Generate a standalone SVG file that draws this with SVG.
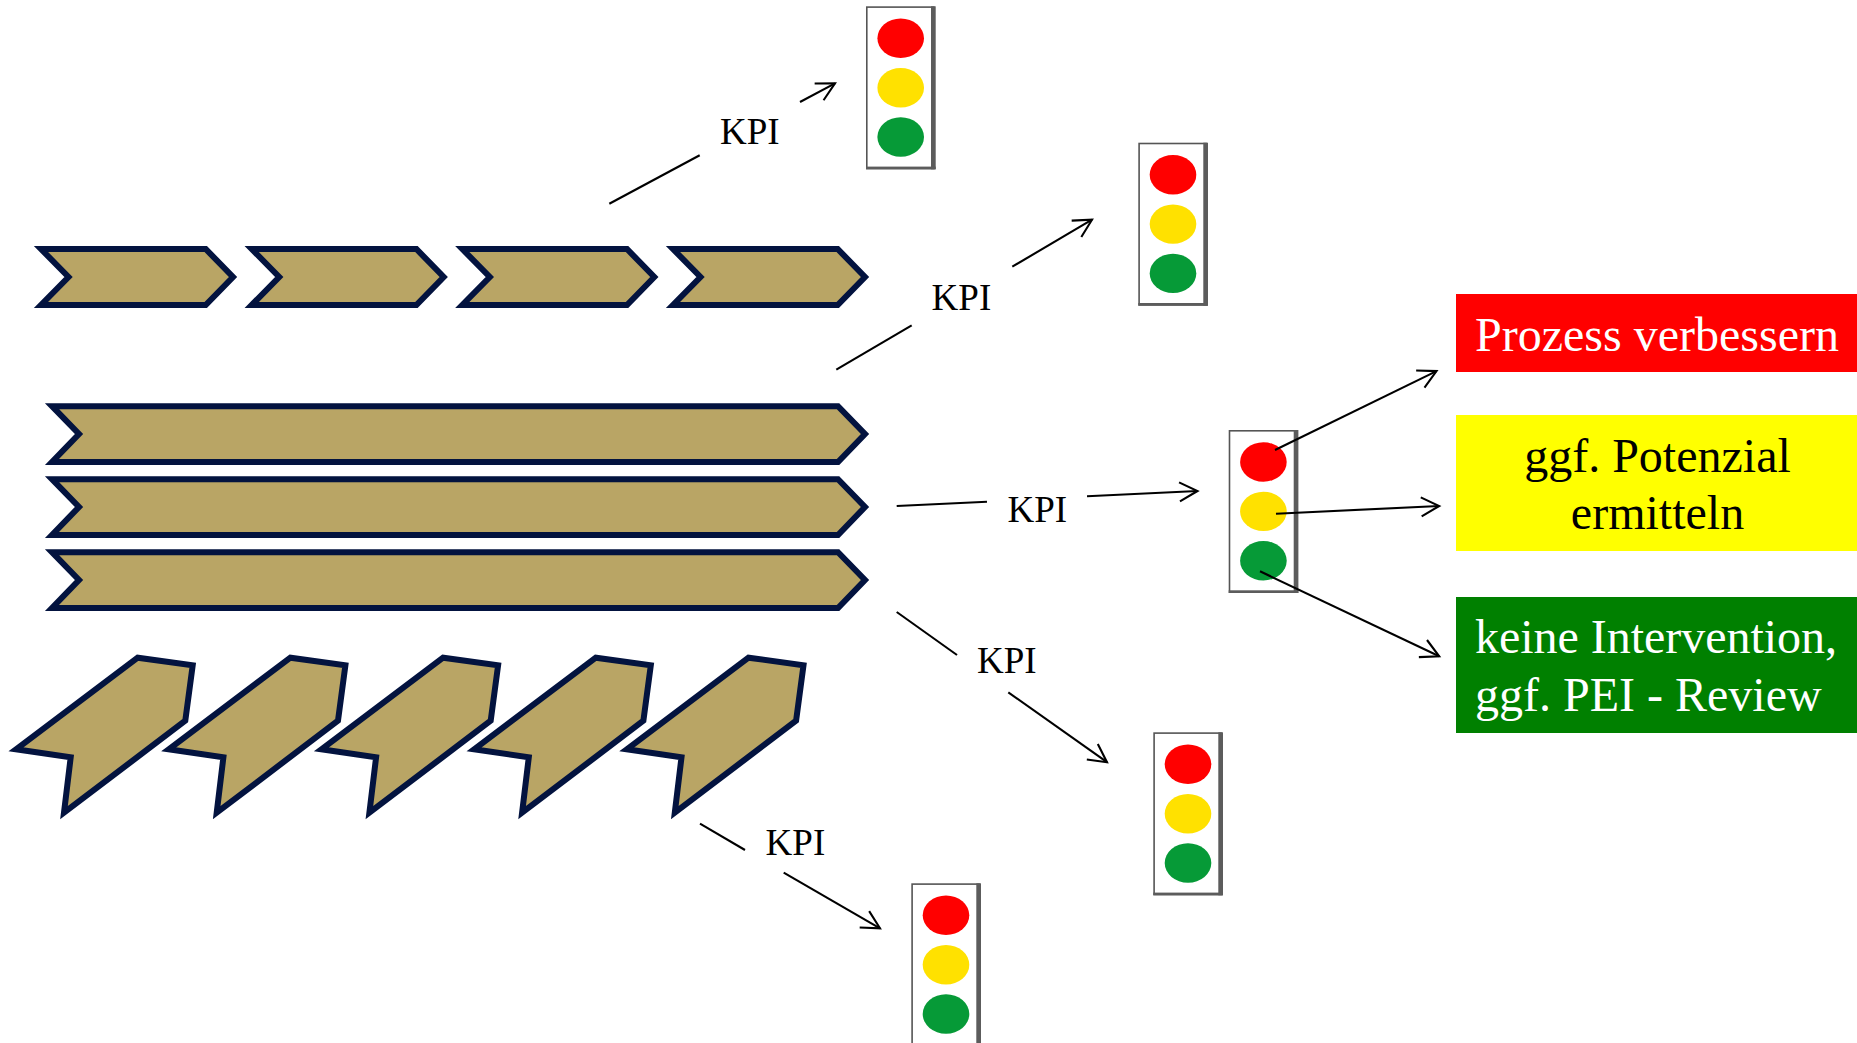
<svg xmlns="http://www.w3.org/2000/svg" width="1857" height="1043" viewBox="0 0 1857 1043">
<style>
.chev{fill:#b9a565;stroke:#03133f;stroke-width:6;stroke-linejoin:miter;stroke-miterlimit:10}
.frame{fill:#fff;stroke:#555;stroke-width:1.6}
.band{fill:#5c5c5c}
.r{fill:#f00}.y{fill:#ffe100}.g{fill:#069a37}
.conn{stroke:#000;stroke-width:2.1;fill:none}
.kpi{font-family:"Liberation Serif","Times New Roman",serif;font-size:37px;fill:#000}
.big{font-family:"Liberation Serif","Times New Roman",serif;font-size:48px}
</style>
<defs>
<marker id="arrow" markerUnits="userSpaceOnUse" markerWidth="30" markerHeight="30" viewBox="-25 -15 30 30" refX="0" refY="0" orient="auto">
<path d="M-18,-9.5 L0,0 L-18,9.5" fill="none" stroke="#000" stroke-width="2.1"/>
</marker>
</defs>
<rect width="1857" height="1043" fill="#fff"/>
<g id="process-top">
<path id="chevron-1" class="chev" d="M41,249H205.7L233,277L205.7,305H41L68.5,277Z"/>
<path id="chevron-2" class="chev" transform="translate(210.7 0)" d="M41,249H205.7L233,277L205.7,305H41L68.5,277Z"/>
<path id="chevron-3" class="chev" transform="translate(421.3 0)" d="M41,249H205.7L233,277L205.7,305H41L68.5,277Z"/>
<path id="chevron-4" class="chev" transform="translate(632 0)" d="M41,249H205.7L233,277L205.7,305H41L68.5,277Z"/>
</g>
<g id="process-long">
<path id="long-1" class="chev" d="M52,406.2H838L865,434L838,462H52L79,434Z"/>
<path id="long-2" class="chev" transform="translate(0 73)" d="M52,406.2H838L865,434L838,462H52L79,434Z"/>
<path id="long-3" class="chev" transform="translate(0 146)" d="M52,406.2H838L865,434L838,462H52L79,434Z"/>
</g>
<g id="process-diagonal">
<path id="diag-1" class="chev" d="M16,749.3L137.7,657.7L192.7,665.3L185.3,720.7L64,812.7L70.7,757.3Z"/>
<path id="diag-2" class="chev" transform="translate(152.7 0)" d="M16,749.3L137.7,657.7L192.7,665.3L185.3,720.7L64,812.7L70.7,757.3Z"/>
<path id="diag-3" class="chev" transform="translate(305.4 0)" d="M16,749.3L137.7,657.7L192.7,665.3L185.3,720.7L64,812.7L70.7,757.3Z"/>
<path id="diag-4" class="chev" transform="translate(458.1 0)" d="M16,749.3L137.7,657.7L192.7,665.3L185.3,720.7L64,812.7L70.7,757.3Z"/>
<path id="diag-5" class="chev" transform="translate(610.8 0)" d="M16,749.3L137.7,657.7L192.7,665.3L185.3,720.7L64,812.7L70.7,757.3Z"/>
</g>
<g id="light-1" transform="translate(866 6.3)">
<rect class="frame" x=".8" y=".8" width="67" height="161.4"/><rect class="band" x="65" y="0" width="4.7" height="163"/><rect class="band" x="0" y="160.3" width="69.7" height="2.7"/>
<ellipse class="r" cx="34.7" cy="32" rx="23.3" ry="19.7"/><ellipse class="y" cx="34.7" cy="81.4" rx="23.3" ry="19.7"/><ellipse class="g" cx="34.7" cy="130.7" rx="23.3" ry="19.7"/>
</g>
<g id="light-2" transform="translate(1138.3 142.7)">
<rect class="frame" x=".8" y=".8" width="67" height="161.4"/><rect class="band" x="65" y="0" width="4.7" height="163"/><rect class="band" x="0" y="160.3" width="69.7" height="2.7"/>
<ellipse class="r" cx="34.7" cy="32" rx="23.3" ry="19.7"/><ellipse class="y" cx="34.7" cy="81.4" rx="23.3" ry="19.7"/><ellipse class="g" cx="34.7" cy="130.7" rx="23.3" ry="19.7"/>
</g>
<g id="light-3" transform="translate(1228.7 430)">
<rect class="frame" x=".8" y=".8" width="67" height="161.4"/><rect class="band" x="65" y="0" width="4.7" height="163"/><rect class="band" x="0" y="160.3" width="69.7" height="2.7"/>
<ellipse class="r" cx="34.7" cy="32" rx="23.3" ry="19.7"/><ellipse class="y" cx="34.7" cy="81.4" rx="23.3" ry="19.7"/><ellipse class="g" cx="34.7" cy="130.7" rx="23.3" ry="19.7"/>
</g>
<g id="light-4" transform="translate(1153.3 732.3)">
<rect class="frame" x=".8" y=".8" width="67" height="161.4"/><rect class="band" x="65" y="0" width="4.7" height="163"/><rect class="band" x="0" y="160.3" width="69.7" height="2.7"/>
<ellipse class="r" cx="34.7" cy="32" rx="23.3" ry="19.7"/><ellipse class="y" cx="34.7" cy="81.4" rx="23.3" ry="19.7"/><ellipse class="g" cx="34.7" cy="130.7" rx="23.3" ry="19.7"/>
</g>
<g id="light-5" transform="translate(911.3 883.3)">
<rect class="frame" x=".8" y=".8" width="67" height="161.4"/><rect class="band" x="65" y="0" width="4.7" height="163"/><rect class="band" x="0" y="160.3" width="69.7" height="2.7"/>
<ellipse class="r" cx="34.7" cy="32" rx="23.3" ry="19.7"/><ellipse class="y" cx="34.7" cy="81.4" rx="23.3" ry="19.7"/><ellipse class="g" cx="34.7" cy="130.7" rx="23.3" ry="19.7"/>
</g>
<g id="box-red">
<rect x="1456" y="294" width="401" height="78" fill="#f00"/>
<text class="big" x="1657" y="350.7" text-anchor="middle" fill="#fff">Prozess verbessern</text>
</g>
<g id="box-yellow">
<rect x="1456" y="415" width="401" height="136" fill="#ff0"/>
<text class="big" x="1657.5" y="472" text-anchor="middle" fill="#000">ggf. Potenzial</text>
<text class="big" x="1657.5" y="529" text-anchor="middle" fill="#000">ermitteln</text>
</g>
<g id="box-green">
<rect x="1456" y="597" width="401" height="136" fill="#008000"/>
<text class="big" x="1475" y="652.7" fill="#fff" textLength="362">keine Intervention,</text>
<text class="big" x="1475" y="710.7" fill="#fff">ggf. PEI - Review</text>
</g>
<g id="labels">
<text class="kpi" x="720" y="144">KPI</text>
<text class="kpi" x="931.6" y="310">KPI</text>
<text class="kpi" x="1007.5" y="521.7">KPI</text>
<text class="kpi" x="977" y="672.7">KPI</text>
<text class="kpi" x="765.6" y="855">KPI</text>
</g>
<g id="connectors">
<line class="conn" x1="609.3" y1="203.7" x2="699.7" y2="155.3"/>
<line class="conn" x1="800" y1="102" x2="835" y2="83.4" marker-end="url(#arrow)"/>
<line class="conn" x1="836.3" y1="369.7" x2="911.7" y2="325.3"/>
<line class="conn" x1="1012.3" y1="266.7" x2="1092" y2="219.7" marker-end="url(#arrow)"/>
<line class="conn" x1="896.7" y1="506" x2="987" y2="501.7"/>
<line class="conn" x1="1087" y1="496.3" x2="1197.5" y2="491" marker-end="url(#arrow)"/>
<line class="conn" x1="896.7" y1="612" x2="957" y2="655"/>
<line class="conn" x1="1008.3" y1="692.3" x2="1107" y2="762.2" marker-end="url(#arrow)"/>
<line class="conn" x1="700" y1="823.7" x2="745" y2="850"/>
<line class="conn" x1="783.7" y1="872.7" x2="880" y2="928.3" marker-end="url(#arrow)"/>
<line class="conn" x1="1275" y1="450" x2="1436.5" y2="371.1" marker-end="url(#arrow)"/>
<line class="conn" x1="1276" y1="513.7" x2="1439.2" y2="506" marker-end="url(#arrow)"/>
<line class="conn" x1="1260" y1="571.3" x2="1439.2" y2="656.3" marker-end="url(#arrow)"/>
</g>
</svg>
